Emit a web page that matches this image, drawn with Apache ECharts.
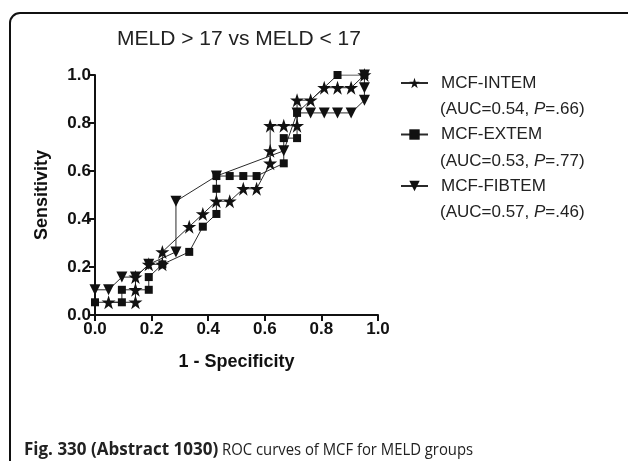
<!DOCTYPE html>
<html>
<head>
<meta charset="utf-8">
<script src="https://cdn.jsdelivr.net/npm/echarts@6/dist/echarts.min.js"></script>
<style>
html,body{margin:0;padding:0;background:#fff;}
#c{width:628px;height:461px;}
</style>
</head>
<body>
<div id="c"></div>
<script>
// ---- data (1 - specificity, sensitivity) ----
var intemX = [0.048,0.143,0.143,0.143,0.190,0.238,0.238,0.333,0.381,0.429,0.476,0.524,0.571,0.619,0.619,0.619,0.667,0.714,0.714,0.762,0.810,0.857,0.905,0.952];
var intemY = [0.053,0.053,0.105,0.158,0.211,0.211,0.263,0.368,0.421,0.474,0.474,0.526,0.526,0.632,0.684,0.789,0.789,0.789,0.895,0.895,0.947,0.947,0.947,1.000];
var extemX = [0.000,0.095,0.095,0.190,0.190,0.238,0.333,0.381,0.429,0.429,0.429,0.476,0.524,0.571,0.667,0.667,0.714,0.714,0.857,0.952];
var extemY = [0.053,0.053,0.105,0.105,0.158,0.211,0.263,0.368,0.421,0.526,0.579,0.579,0.579,0.579,0.632,0.737,0.737,0.842,1.000,1.000];
var fibtemX = [0.000,0.048,0.095,0.143,0.190,0.286,0.286,0.429,0.667,0.714,0.762,0.810,0.857,0.905,0.952,0.952,0.952];
var fibtemY = [0.105,0.105,0.158,0.158,0.211,0.263,0.474,0.579,0.684,0.842,0.842,0.842,0.842,0.842,0.895,0.947,1.000];
var seriesNames = ['MCF-INTEM','MCF-EXTEM','MCF-FIBTEM'];
var aucLabels = ['0.54','0.53','0.57'];
var pLabels = ['.66','.77','.46'];
var tickLabels = ['0.0','0.2','0.4','0.6','0.8','1.0'];
var titleText = 'MELD > 17 vs MELD < 17';
var xName = '1 - Specificity';
var yName = 'Sensitivity';
var captionBold = 'Fig. 330 (Abstract 1030)';
var captionText = 'ROC curves of MCF for MELD groups';

function pairs(xs, ys){ return xs.map(function(x,i){ return [x, ys[i]]; }); }

var star = 'path://M12,0 L14.9,8.9 L24,8.9 L16.6,14.4 L19.4,23.5 L12,17.8 L4.6,23.5 L7.4,14.4 L0,8.9 L9.1,8.9 Z';
var lineCol = '#2a2a2a';
var sans = '"Liberation Sans", Arial, sans-serif';

var chart = echarts.init(document.getElementById('c'), null, {renderer:'canvas'});

function mkSeries(name, data, symbol, size, rotate){
  return {
    name: name, type: 'line', data: data,
    symbol: symbol, symbolSize: size, symbolRotate: rotate || 0,
    showAllSymbol: true,
    lineStyle: {color: lineCol, width: 1},
    itemStyle: {color: '#111', borderWidth: 0},
    animation: false, z: 3
  };
}

var gfx = [
  {type:'rect', shape:{x:10, y:13, width:660, height:480, r:10}, style:{fill:'none', stroke:'#111', lineWidth:2}, z:0},
  {type:'text', left:117, top:29, style:{text:titleText, font:'21px "Liberation Sans", Arial, sans-serif', fill:'#222'}},
  {type:'text', x:24, y:442, style:{text:captionBold, font:'bold 17px "Open Sans", sans-serif', fill:'#222'}},
  {type:'text', x:222, y:442, scaleX:0.9, style:{text:captionText, font:'16.5px "Open Sans", sans-serif', fill:'#222'}}
];
for (var i=0;i<3;i++){
  gfx.push({type:'text', left:440, top:101 + i*51.5, style:{
    text:'(AUC=' + aucLabels[i] + ', {i|P}=' + pLabels[i] + ')',
    font:'17px "Liberation Sans", Arial, sans-serif', fill:'#222',
    rich:{i:{font:'italic 17px "Liberation Sans", Arial, sans-serif', fill:'#222'}}
  }});
}

var axisCommon = {
  min:0, max:1, interval:0.2,
  axisLine:{show:true, onZero:false, lineStyle:{color:'#111', width:2}},
  axisTick:{show:true, inside:false, length:6, lineStyle:{color:'#111', width:2}},
  splitLine:{show:false},
  nameTextStyle:{fontFamily:sans, fontWeight:'bold', fontSize:18, color:'#111'}
};

chart.setOption({
  backgroundColor:'#fff',
  animation:false,
  grid:{left:95, right:250, top:75, bottom:146, containLabel:false},
  xAxis: Object.assign({}, axisCommon, {
    type:'value', name:xName, nameLocation:'middle', nameGap:38,
    axisLabel:{fontFamily:sans, fontWeight:'bold', fontSize:17, color:'#111', margin:6,
      formatter:function(v){ return tickLabels[Math.round(v*5)]; }}
  }),
  yAxis: Object.assign({}, axisCommon, {
    type:'value', name:yName, nameLocation:'middle', nameGap:44, nameRotate:90,
    axisLabel:{fontFamily:sans, fontWeight:'bold', fontSize:17, color:'#111', margin:4,
      formatter:function(v){ return tickLabels[Math.round(v*5)]; }}
  }),
  legend:{
    orient:'vertical', left:400, top:73, padding:0, itemGap:31.5, itemWidth:27, itemHeight:13,
    data:seriesNames,
    textStyle:{fontFamily:sans, fontSize:17, color:'#222', lineHeight:20, padding:[0,0,0,8]},
    selectedMode:false
  },
  graphic: gfx,
  series:[
    mkSeries(seriesNames[0], pairs(intemX, intemY), star, 14),
    mkSeries(seriesNames[1], pairs(extemX, extemY), 'rect', 8),
    mkSeries(seriesNames[2], pairs(fibtemX, fibtemY), 'triangle', 11, 180)
  ]
});
</script>
</body>
</html>
